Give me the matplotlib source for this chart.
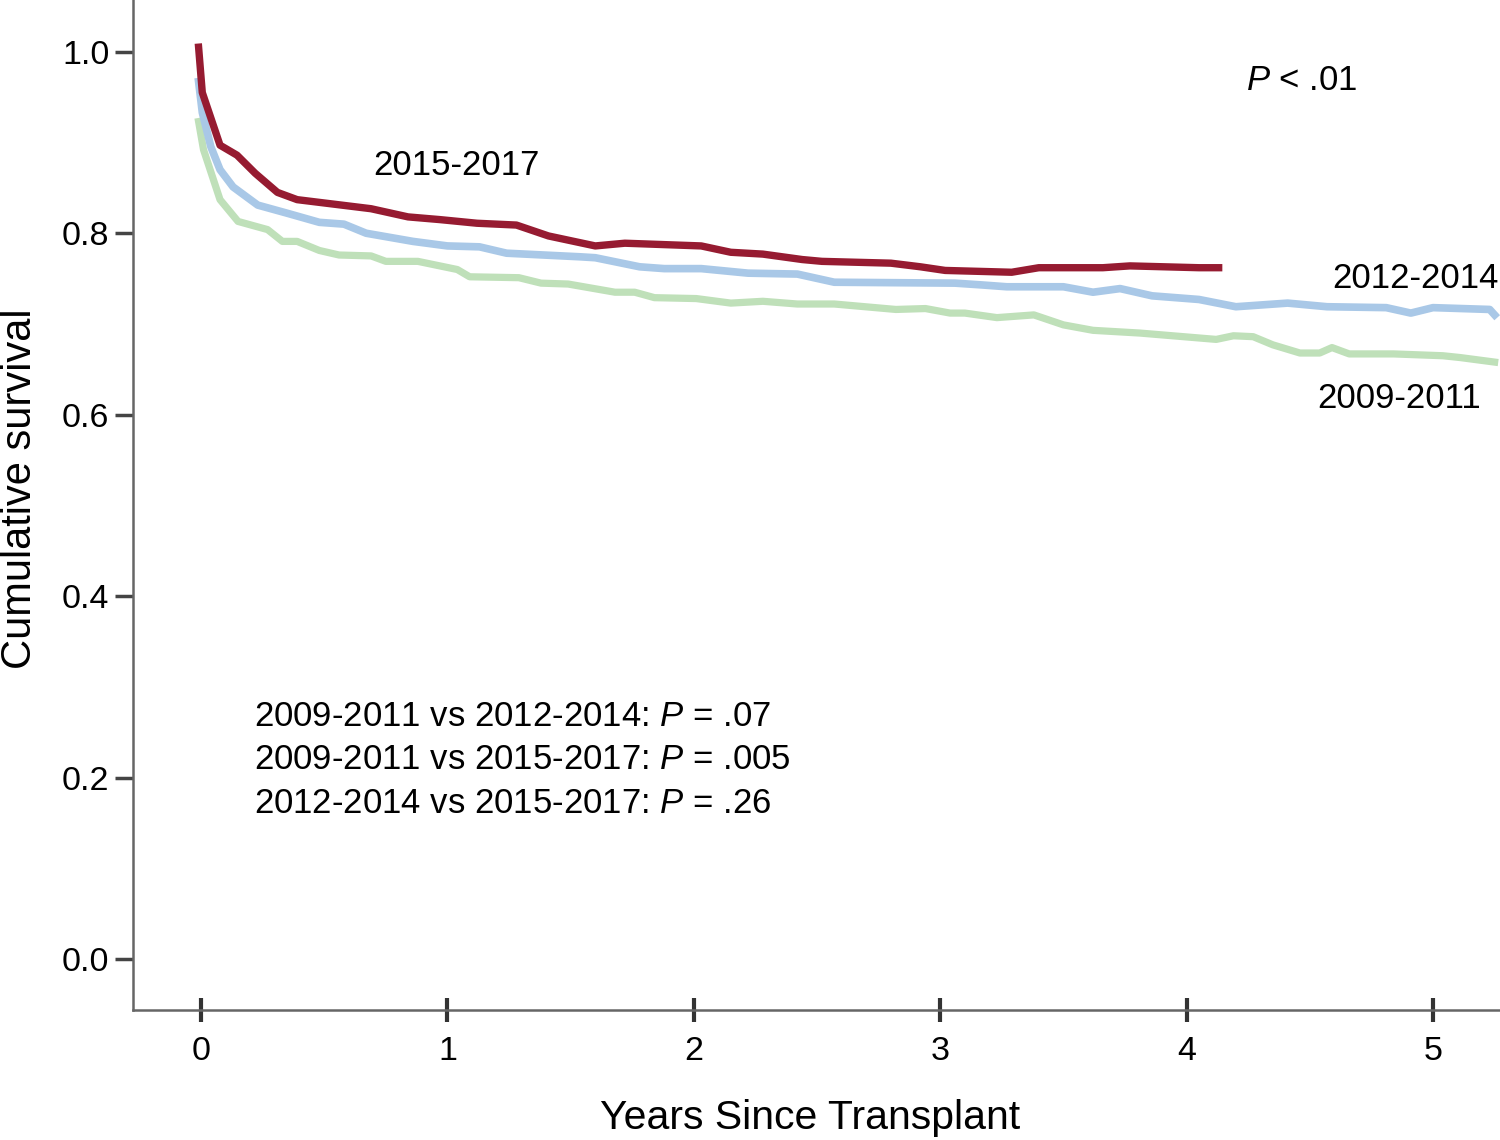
import numpy as np
import matplotlib
matplotlib.use("Agg")
import matplotlib.pyplot as plt

plt.rcParams["font.family"] = ["Liberation Sans", "DejaVu Sans"]
plt.rcParams["mathtext.fontset"] = "custom"
plt.rcParams["mathtext.rm"] = "Liberation Sans"
plt.rcParams["mathtext.it"] = "Liberation Sans:italic"

# ------------------------------------------------------------
# Survival curves (years, cumulative survival)
# ------------------------------------------------------------
x_2015 = [-0.01, 0.005, 0.077, 0.146, 0.22, 0.31, 0.39, 0.69, 0.84, 0.97, 1.12, 1.28,
          1.41, 1.60, 1.72, 2.03, 2.15, 2.28, 2.44, 2.52, 2.80, 2.92, 3.02, 3.29,
          3.40, 3.66, 3.77, 4.05, 4.13]
y_2015 = [1.005, 0.955, 0.897, 0.886, 0.866, 0.845, 0.837, 0.827, 0.818, 0.815, 0.811, 0.809,
          0.797, 0.786, 0.789, 0.786, 0.779, 0.777, 0.771, 0.769, 0.767, 0.763, 0.759, 0.757,
          0.762, 0.762, 0.764, 0.762, 0.762]

x_2012 = [-0.01, 0.005, 0.04, 0.077, 0.13, 0.23, 0.35, 0.48, 0.58, 0.67, 0.86, 1.0,
          1.13, 1.24, 1.54, 1.60, 1.78, 1.88, 2.03, 2.22, 2.42, 2.57, 3.06, 3.17,
          3.27, 3.50, 3.62, 3.73, 3.86, 4.05, 4.20, 4.41, 4.57, 4.81, 4.91, 5.0,
          5.23, 5.25]
y_2012 = [0.967, 0.933, 0.895, 0.870, 0.851, 0.831, 0.822, 0.812, 0.810, 0.800, 0.791, 0.786,
          0.785, 0.778, 0.774, 0.773, 0.763, 0.761, 0.761, 0.756, 0.755, 0.746, 0.745, 0.743,
          0.741, 0.741, 0.735, 0.739, 0.731, 0.727, 0.719, 0.723, 0.719, 0.718, 0.712, 0.718,
          0.716, 0.710]

x_2009 = [-0.01, 0.01, 0.077, 0.15, 0.27, 0.33, 0.39, 0.48, 0.56, 0.69, 0.75, 0.88,
          1.04, 1.09, 1.29, 1.38, 1.49, 1.68, 1.76, 1.84, 2.01, 2.15, 2.28, 2.42,
          2.57, 2.82, 2.94, 3.04, 3.10, 3.23, 3.38, 3.50, 3.62, 3.81, 4.12, 4.19,
          4.27, 4.35, 4.46, 4.54, 4.59, 4.66, 4.84, 5.04, 5.11, 5.25]
y_2009 = [0.923, 0.892, 0.837, 0.813, 0.804, 0.791, 0.791, 0.781, 0.776, 0.775, 0.769, 0.769,
          0.760, 0.752, 0.751, 0.745, 0.744, 0.735, 0.735, 0.729, 0.728, 0.723, 0.725, 0.722,
          0.722, 0.716, 0.717, 0.712, 0.712, 0.707, 0.710, 0.699, 0.693, 0.690, 0.683, 0.687,
          0.686, 0.677, 0.668, 0.668, 0.674, 0.667, 0.667, 0.665, 0.663, 0.658]

x_ticks = [0, 1, 2, 3, 4, 5]
y_ticks = [0.0, 0.2, 0.4, 0.6, 0.8, 1.0]

pair_lines = [
    "2009-2011 vs 2012-2014: $P$ = .07",
    "2009-2011 vs 2015-2017: $P$ = .005",
    "2012-2014 vs 2015-2017: $P$ = .26",
]

# ------------------------------------------------------------
# Plot
# ------------------------------------------------------------
fig = plt.figure(figsize=(15, 11.4), dpi=100)
ax = fig.add_axes([0.0887, 0.114, 0.911, 0.886])

ax.plot(x_2009, y_2009, color="#bfe0b9", lw=5.2, solid_joinstyle="round")
ax.plot(x_2012, y_2012, color="#a9c8e7", lw=5.5, solid_joinstyle="round")
ax.plot(x_2015, y_2015, color="#961b31", lw=5.3, solid_joinstyle="round")

ax.set_xlim(-0.276, 5.27)
ax.set_ylim(-0.056, 1.057)

ax.set_xticks(x_ticks)
ax.set_xticklabels([str(t) for t in x_ticks])
ax.set_yticks(y_ticks)
ax.set_yticklabels([f"{t:.1f}" for t in y_ticks])

for side in ["top", "right"]:
    ax.spines[side].set_visible(False)
for side in ["left", "bottom"]:
    ax.spines[side].set_color("#666666")
    ax.spines[side].set_linewidth(1.8)

ax.tick_params(axis="y", direction="out", length=13, width=2.5, color="#444444",
               labelsize=24.5, pad=4)
ax.tick_params(axis="x", direction="inout", length=17, width=3, color="#333333",
               labelsize=24.5, pad=10)

ax.set_xlabel("Years Since Transplant", fontsize=29.5)
ax.set_ylabel("Cumulative survival", fontsize=30)
ax.xaxis.set_label_coords(0.4954, -0.088)
ax.yaxis.set_label_coords(-0.068, 0.516)

# curve labels and p values
ax.text(4.24, 0.968, "$P$ < .01", fontsize=25, va="center")
ax.text(0.70, 0.875, "2015-2017", fontsize=25, va="center")
ax.text(4.59, 0.750, "2012-2014", fontsize=25, va="center")
ax.text(4.53, 0.618, "2009-2011", fontsize=25, va="center")

for i, line in enumerate(pair_lines):
    ax.text(0.215, 0.268 - i * 0.048, line, fontsize=25, va="center")

fig.savefig("out.png", dpi=100)
